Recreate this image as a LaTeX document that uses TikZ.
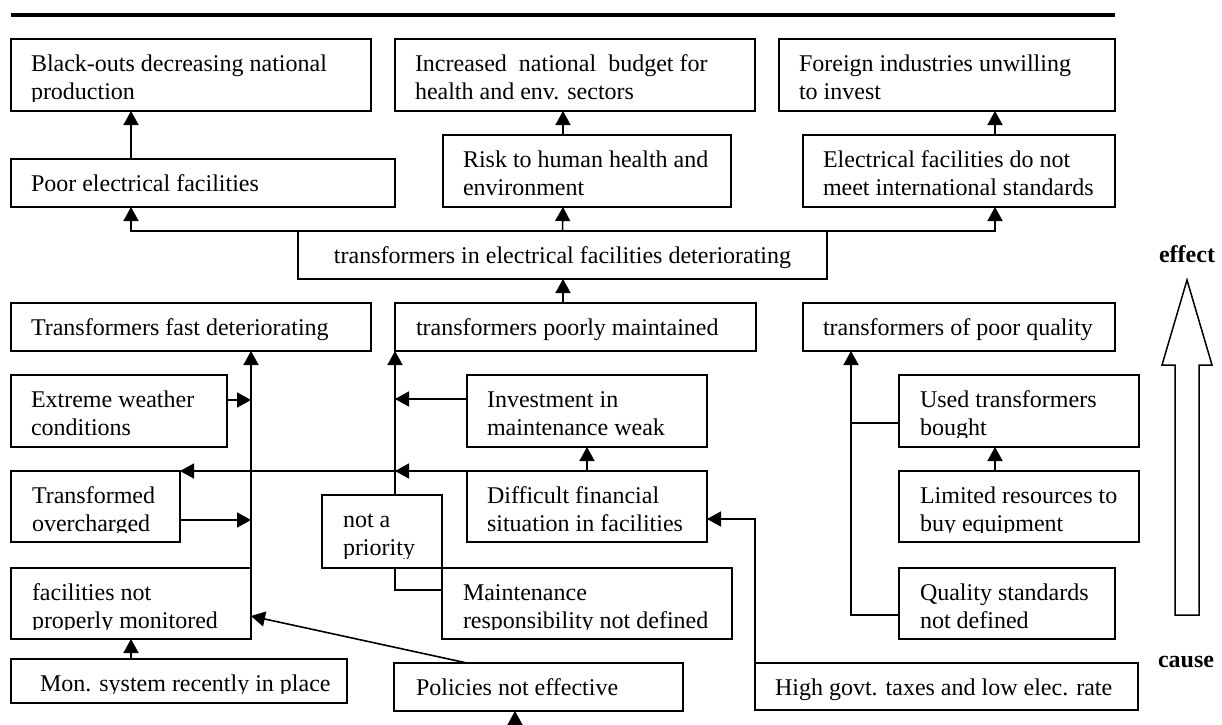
\documentclass[tikz,border=0pt]{standalone}
\usepackage{fontspec}
\setmainfont{Liberation Serif}
\usetikzlibrary{arrows.meta}
\tikzset{
  boxst/.style={draw, line width=1.8pt, fill=white, inner sep=0pt, outer sep=0pt},
  txtst/.style={inner sep=0pt, outer sep=0pt, font=\fontsize{24}{27.5}\selectfont},
  link/.style={line width=1.6pt},
  arr/.style={link, -{Triangle[length=14pt,width=15pt]}},
  tag/.style={inner sep=0pt, outer sep=0pt, font=\fontsize{24}{27.5}\selectfont\bfseries},
}
% \tbox[text indent]{name}{left}{top}{width}{height}{lines}
\newcommand\tbox[7][20]{%
  \node[boxst, minimum width=#5pt, minimum height=#6pt, anchor=north west] (#2) at (#3,#4) {};
  \begin{scope}
    \clip (#3,#4) rectangle ++(#5,#6-10);
    \node[txtst, anchor=base west] (#2-t) at (#3+#1,#4+32.5)
      {\begin{tabular}[t]{@{}l@{}}#7\end{tabular}};
  \end{scope}}
\begin{document}
\begin{tikzpicture}[x=1pt,y=-1pt]
\useasboundingbox (0,0) rectangle (1222,724);

% heading rule
\draw[line width=3.5pt] (11,15) -- (1115,15);

% effects
\tbox{bo}{11}{39}{360}{72}{Black-outs decreasing national\\production}
\tbox{inc}{395}{39}{360}{72}{Increased\ \ national\ \ budget for\\health and env. sectors}
\tbox{for}{779}{39}{336}{72}{Foreign industries unwilling\\to invest}
\tbox{poor}{11}{159}{384}{48}{Poor electrical facilities}
\tbox{risk}{443}{135}{288}{72}{Risk to human health and\\environment}
\tbox{elec}{803}{135}{312}{72}{Electrical facilities do not\\meet international standards}

% core problem
\node[boxst, minimum width=529pt, minimum height=48pt, anchor=north west] (tfd) at (298,231) {};
\node[txtst, anchor=base] (tfd-t) at (562.5,263)
  {transformers in electrical facilities deteriorating};

% causes
\tbox{fd}{11}{303}{360}{48}{Transformers fast deteriorating}
\tbox[21]{pm}{395}{303}{361}{48}{transformers poorly maintained}
\tbox{pq}{803}{303}{312}{48}{transformers of poor quality}
\tbox{ew}{11}{375}{216}{72}{Extreme weather\\conditions}
\tbox{inv}{467}{375}{240}{72}{Investment in\\maintenance weak}
\tbox[21]{used}{899}{375}{240}{72}{Used transformers\\bought}
\tbox[21]{to}{11}{471}{169}{71}{Transformed\\overcharged}
\tbox{dif}{467}{471}{240}{71}{Difficult financial\\situation in facilities}
\tbox[21]{lim}{899}{471}{240}{71}{Limited resources to\\buy equipment}
\tbox[21]{fm}{11}{568}{240}{71}{facilities not\\properly monitored}
\tbox[21]{maint}{442}{568}{290}{71}{Maintenance\\responsibility not defined}
\tbox[21]{qs}{899}{568}{216}{71}{Quality standards\\not defined}
\tbox[29]{mon}{11}{659}{336}{44}{Mon. system recently in place}
\tbox[22]{pol}{394}{663}{289}{48}{Policies not effective}
\tbox{hg}{755}{663}{383}{47}{High govt. taxes and low elec. rate}

% effect links
\draw[arr] ([xshift=120]poor.north west) -- ([xshift=120]bo.south west);
\draw[arr] ([xshift=120]risk.north west) -- ([xshift=120]risk.north west |- inc.south);
\draw[arr] ([xshift=192]elec.north west) -- ([xshift=192]elec.north west |- for.south);
\draw[arr] (tfd.north west) -| ([xshift=120]poor.south west);
\draw[arr] ([xshift=264.5]tfd.north west) -- ([xshift=120]risk.south west);
\draw[arr] (tfd.north east) -| ([xshift=192]elec.south west);
\draw[arr] ([xshift=168]pm.north west) -- ([xshift=168]pm.north west |- tfd.south);

% fast deterioration branch
\draw[arr] (fm.north east) -- (fm.north east |- fd.south);
\draw[arr] ([yshift=11pt]ew.east) -- ([yshift=11pt]ew.east -| fm.north east);
\draw[arr] ([yshift=-13.5pt]to.east) -- ([yshift=-13.5pt]to.east -| fm.north east);
\draw[arr] ([xshift=120]mon.north west) -- ([xshift=120]mon.north west |- fm.south);
\draw[arr] ([xshift=73]pol.north west) -- ([yshift=-12.5pt]fm.east);
\coordinate (polin) at (515,724);
\draw[arr] (polin) -- (polin |- pol.south);

% maintenance branch
\draw[arr] ([yshift=-22pt]maint.north west) -| (pm.south west);
\draw[arr] ([yshift=12pt]inv.west) -- ([yshift=12pt]inv.west -| pm.south west);
\draw[arr] (dif.north west) -- (dif.north west -| pm.south west);
\draw[arr] (dif.north west) -- (to.north east);
\draw[arr] ([xshift=120]dif.north west) -- ([xshift=120]dif.north west |- inv.south);
\draw[arr] (hg.north west) |- ([yshift=-12.5pt]dif.east);

% quality branch
\coordinate (qtrunk) at ([xshift=48]pq.south west);
\draw[arr] ([yshift=-47pt]qs.north west) -| (qtrunk);
\draw[link] ([yshift=-12pt]used.west) -- ([yshift=-12pt]used.west -| qtrunk);
\draw[arr] ([xshift=96]lim.north west) -- ([xshift=96]lim.north west |- used.south);

% box lying over the maintenance line
\tbox[21]{np}{322}{495}{120}{73}{not a\\priority}

% cause / effect direction
\node[tag, anchor=base] (eff) at (1187,262) {effect};
\node[tag, anchor=base] (cau) at (1186,667) {cause};
\draw[line width=1.5pt, line join=miter]
  (1175,615) -- (1175,365) -- (1162,365) -- (1187,280) -- (1212,365)
  -- (1199,365) -- (1199,615) -- cycle;
\end{tikzpicture}
\end{document}
